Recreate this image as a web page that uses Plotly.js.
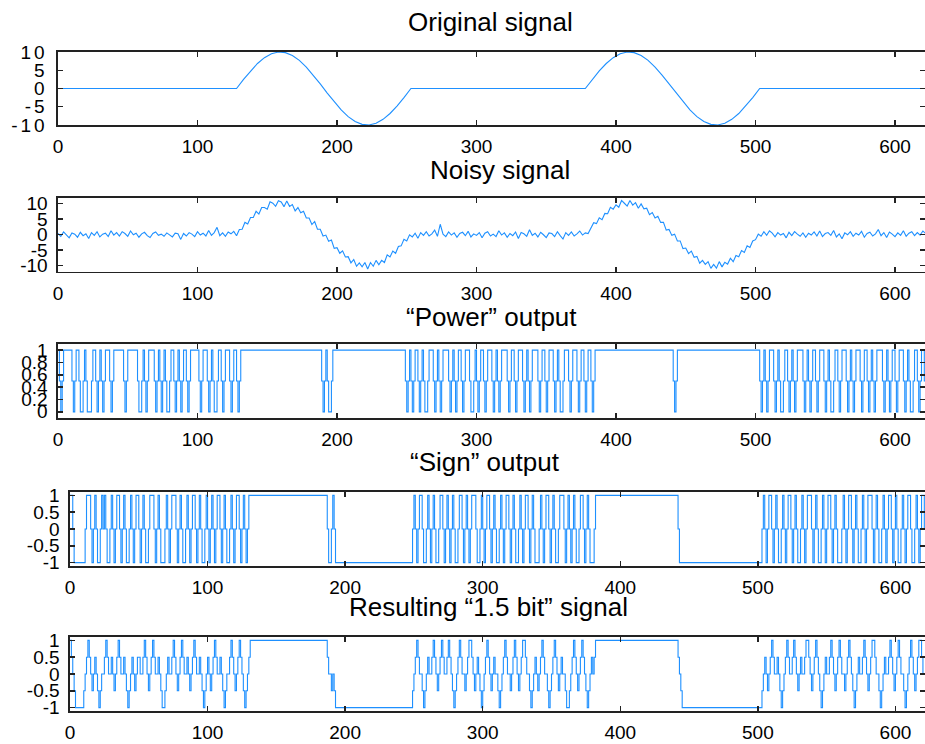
<!DOCTYPE html>
<html>
<head>
<meta charset="utf-8">
<script src="https://cdn.plot.ly/plotly-3.0.1.min.js"></script>
<style>
html,body{margin:0;padding:0;background:#fff;}
#chart{width:925px;height:744px;}
#chart .ytick text{letter-spacing:3px;}
</style>
</head>
<body>
<div id="chart"></div>
<script>
// ---------------- DATA ----------------
const panelTitles = ['Original signal', 'Noisy signal', '\u201cPower\u201d output', '\u201cSign\u201d output', 'Resulting \u201c1.5 bit\u201d signal'];

const xTickVals = [0, 100, 200, 300, 400, 500, 600];
const xTickText = ['0', '100', '200', '300', '400', '500', '600'];
const yTickVals10 = [-10, -5, 0, 5, 10];
const yTickText10 = ['-10', '-5', '0', '5', '10'];
const yTickValsPow = [0, 0.2, 0.4, 0.6, 0.8, 1];
const yTickTextPow = ['0', '0.2', '0.4', '0.6', '0.8', '1'];
const yTickValsSign = [-1, -0.5, 0, 0.5, 1];
const yTickTextSign = ['-1', '-0.5', '0', '0.5', '1'];

// Original signal (sample index, value)
const origX = [0,128,133,138,143,148,153,158,163,168,173,178,183,188,193,198,203,208,213,218,223,228,233,238,243,248,253,
               378,383,388,393,398,403,408,413,418,423,428,433,438,443,448,453,458,463,468,473,478,483,488,493,498,503,625];
const origY = [0,0,2.49,4.82,6.85,8.44,9.51,9.98,9.82,9.05,7.71,5.88,3.68,1.25,-1.25,-3.68,-5.88,-7.71,-9.05,-9.82,-9.98,-9.51,-8.44,-6.85,-4.82,-2.49,0,
               0,2.49,4.82,6.85,8.44,9.51,9.98,9.82,9.05,7.71,5.88,3.68,1.25,-1.25,-3.68,-5.88,-7.71,-9.05,-9.82,-9.98,-9.51,-8.44,-6.85,-4.82,-2.49,0,0];

// Noisy signal, one value every 2 samples
const noisyStep = 2;
const noisyY = [
 0.3,-0.6,0.8,-0.2,-1.1,0.5,0.1,-0.9, 0.7,-0.4,0.2,-1.3,0.6,-0.3,0.9,-0.8, 0.1,0.4,-0.7,1.2,-0.2,0.6,-0.5,0.9, 0.3,-0.6,1.1,-0.1,0.4,-0.9,0.2,0.7,
 -0.4,-1.0,0.3,0.8,-0.3,0.1,-0.6,0.5, -0.2,-0.8,0.4,0.2,-1.6,0.3,-0.5,0.6, 0.1,-0.7,0.9,-0.2,0.4,-0.5,1.3,-0.3, 0.6,2.3,-0.4,0.5,-0.6,0.8,0.2,1.0,
 -0.4,1.6,1.7,3.9,3.4,5.5,5.5,7.5, 6.6,8.7,8.7,8.2,10.6,10.1,9.1,10.9, 10.5,9.0,10.8,9.1,9.7,7.6,8.7,7.0, 7.5,5.3,5.3,3.2,4.2,1.7,1.7,-0.5,
 -0.2,-2.2,-1.8,-4.5,-4.3,-6.1,-5.3,-7.3, -7.2,-9.2,-8.1,-10.3,-9.2,-10.5,-9.1,-11.2, -9.1,-10.3,-8.4,-9.8,-8.4,-9.1,-6.6,-7.3, -5.4,-6.1,-3.9,-3.7,-1.6,-2.1,-0.1,
 -0.8,0.4,-1.2,0.6,-0.3,0.9,-0.5,0.2, 1.4,-0.6,3.3,0.1,-0.7,0.8,-0.2,0.5, -0.9,0.3,0.7,-0.4,1.0,-0.8,0.2,-0.3, 0.6,-1.1,0.4,0.9,-0.5,0.1,-0.7,1.2,
 -0.2,0.5,-0.9,0.3,-0.4,0.8,-1.3,0.6, 0.2,-0.6,1.5,-0.3,0.4,-0.8,0.7,-0.1, -1.0,0.5,0.3,-0.7,0.9,-0.4,-1.5,0.6, -0.3,0.8,-0.5,0.2,1.1,-0.2,
 0.5,0.3,2.2,3.8,3.5,5.4,4.8,6.8, 6.7,8.8,8.2,9.6,8.8,11.0,10.1,9.2, 11.0,9.5,10.3,8.5,9.9,8.3,8.5,6.4, 7.1,5.3,5.9,3.9,3.9,1.4,1.6,-0.3,
 0.1,-2.1,-2.1,-4.6,-4.4,-6.2,-5.4,-7.4, -7.1,-9.3,-8.4,-9.7,-8.8,-11.0,-9.7,-10.9, -8.8,-10.5,-9.0,-9.6,-7.7,-8.8,-6.8,-7.2, -5.2,-5.8,-3.7,-4.2,-2.1,-1.7,0.1,
 -0.6,0.9,-0.3,1.2,0.4,-0.8,0.6,-0.2, 0.3,-1.1,0.7,-0.4,0.9,0.1,-0.6,0.5, -0.9,0.4,-0.2,0.8,-0.5,1.1,-0.7,0.3, 0.6,-0.3,1.3,-0.8,0.2,-1.4,0.5,-0.1,
 0.9,-0.6,0.4,-0.2,1.0,-0.9,0.3,0.7, -0.5,0.2,1.6,-0.4,0.6,-1.0,0.8,0.1, -0.7,0.5,-0.3,1.2,-0.6,0.4,0.9,-0.4, 0.6,-0.2,1.1,0.3,-0.5
];

// "Power" output, one value per sample (0..624)
const powerY = [
 1,.5,0,.5,1,1,1,1,1,1,.5,0,.5,1,1,.5,0,0,.5,1,.5,0,0,0,.5,
 1,1,.5,0,.5,1,.5,0,.5,1,1,1,.5,0,.5,1,1,1,1,1,1,1,.5,0,.5,
 1,1,1,1,1,1,1,.5,0,0,.5,1,.5,0,.5,1,1,1,1,.5,0,.5,1,.5,0,
 .5,1,.5,0,0,.5,1,1,.5,0,.5,1,.5,0,.5,1,1,.5,0,.5,1,1,1,1,1,
 1,.5,0,.5,1,1,1,.5,0,.5,1,.5,0,0,.5,1,1,.5,0,.5,1,1,1,.5,0,
 .5,1,1,.5,0,.5,1,1,1,1,1,1,1,1,1,1,1,1,1,1,1,1,1,1,1,
 1,1,1,1,1,1,1,1,1,1,1,1,1,1,1,1,1,1,1,1,1,1,1,1,1,
 1,1,1,1,1,1,1,1,1,1,1,1,1,1,.5,0,.5,1,.5,0,0,.5,1,1,1,
 1,1,1,1,1,1,1,1,1,1,1,1,1,1,1,1,1,1,1,1,1,1,1,1,1,
 1,1,1,1,1,1,1,1,1,1,1,1,1,1,1,1,1,1,1,1,1,1,1,1,.5,
 0,.5,1,.5,0,.5,1,1,.5,0,.5,1,.5,0,0,.5,1,1,1,.5,0,.5,1,.5,0,
 .5,1,1,1,1,.5,0,.5,1,.5,0,.5,1,1,.5,0,.5,1,1,1,.5,0,0,.5,1,
 .5,0,.5,1,1,.5,0,.5,1,1,1,.5,0,.5,1,.5,0,.5,1,1,1,1,.5,0,.5,
 1,1,.5,0,.5,1,1,1,.5,0,.5,1,.5,0,.5,1,1,1,1,.5,0,.5,1,1,.5,
 0,.5,1,1,1,.5,0,.5,1,.5,0,0,.5,1,1,1,.5,0,.5,1,1,1,.5,0,.5,
 1,1,.5,0,.5,1,1,.5,0,.5,1,1,1,1,1,1,1,1,1,1,1,1,1,1,1,
 1,1,1,1,1,1,1,1,1,1,1,1,1,1,1,1,1,1,1,1,1,1,1,1,1,
 1,1,1,1,1,1,1,1,1,1,1,1,1,1,1,1,.5,0,.5,1,1,1,1,1,1,
 1,1,1,1,1,1,1,1,1,1,1,1,1,1,1,1,1,1,1,1,1,1,1,1,1,
 1,1,1,1,1,1,1,1,1,1,1,1,1,1,1,1,1,1,1,1,1,1,1,1,1,
 1,1,1,.5,0,.5,1,.5,0,.5,1,1,1,.5,0,.5,1,.5,0,0,.5,1,1,.5,0,
 .5,1,.5,0,.5,1,1,1,1,.5,0,.5,1,.5,0,.5,1,1,.5,0,.5,1,1,1,.5,
 0,.5,1,.5,0,0,.5,1,1,.5,0,.5,1,1,1,.5,0,.5,1,.5,0,.5,1,1,1,
 .5,0,.5,1,1,.5,0,.5,1,.5,0,.5,1,1,1,1,.5,0,.5,1,.5,0,.5,1,1,
 .5,0,.5,1,1,1,.5,0,.5,1,.5,0,0,.5,1,1,.5,0,.5,1,1,.5,0,.5,1
];

// "Sign" output, one value per sample (0..624)
const signY = [
 1,1,0,-1,-1,-1,-1,-1,-1,-1,-1,0,1,1,1,0,-1,0,1,0,-1,-1,0,1,0,
 1,0,-1,-1,0,1,0,-1,0,1,1,0,-1,0,1,0,-1,-1,0,1,0,-1,0,1,1,
 0,-1,0,1,0,-1,-1,0,1,1,1,0,-1,0,1,0,-1,-1,-1,0,1,0,-1,0,1,
 1,1,0,-1,0,1,0,-1,-1,0,1,0,-1,0,1,1,0,-1,0,1,0,-1,-1,0,1,
 0,-1,0,1,0,-1,0,1,1,0,-1,0,1,0,-1,-1,0,1,0,-1,0,1,1,0,-1,
 0,1,0,-1,0,1,1,1,1,1,1,1,1,1,1,1,1,1,1,1,1,1,1,1,1,
 1,1,1,1,1,1,1,1,1,1,1,1,1,1,1,1,1,1,1,1,1,1,1,1,1,
 1,1,1,1,1,1,1,1,1,1,1,1,0,-1,-1,0,1,0,-1,-1,-1,-1,-1,-1,-1,
 -1,-1,-1,-1,-1,-1,-1,-1,-1,-1,-1,-1,-1,-1,-1,-1,-1,-1,-1,-1,-1,-1,-1,-1,-1,
 -1,-1,-1,-1,-1,-1,-1,-1,-1,-1,-1,-1,-1,-1,-1,-1,-1,-1,-1,-1,-1,-1,-1,-1,0,
 1,0,-1,0,1,1,0,-1,-1,0,1,0,-1,0,1,0,-1,-1,0,1,1,0,-1,0,1,
 0,-1,0,1,0,-1,-1,0,1,1,0,-1,0,1,0,-1,0,1,1,1,0,-1,-1,0,1,
 0,-1,0,1,1,0,-1,0,1,0,-1,-1,0,1,0,-1,0,1,1,0,-1,0,1,0,-1,
 -1,0,1,0,-1,0,1,1,0,-1,0,1,0,-1,-1,-1,0,1,0,-1,0,1,1,0,-1,
 0,1,0,-1,-1,0,1,1,1,0,-1,0,1,0,-1,0,1,0,-1,-1,0,1,1,0,-1,
 0,1,0,-1,-1,-1,0,1,1,1,1,1,1,1,1,1,1,1,1,1,1,1,1,1,1,
 1,1,1,1,1,1,1,1,1,1,1,1,1,1,1,1,1,1,1,1,1,1,1,1,1,
 1,1,1,1,1,1,1,1,1,1,1,1,1,1,1,1,1,0,-1,-1,-1,-1,-1,-1,-1,
 -1,-1,-1,-1,-1,-1,-1,-1,-1,-1,-1,-1,-1,-1,-1,-1,-1,-1,-1,-1,-1,-1,-1,-1,-1,
 -1,-1,-1,-1,-1,-1,-1,-1,-1,-1,-1,-1,-1,-1,-1,-1,-1,-1,-1,-1,-1,-1,-1,-1,-1,
 -1,-1,-1,0,1,0,-1,0,1,1,0,-1,0,1,0,-1,-1,0,1,0,-1,0,1,1,0,
 -1,0,1,0,-1,-1,0,1,0,-1,0,1,1,1,0,-1,0,1,0,-1,-1,0,1,0,-1,
 0,1,1,0,-1,0,1,0,-1,-1,-1,0,1,0,-1,0,1,1,0,-1,0,1,0,-1,-1,
 0,1,0,-1,0,1,1,1,0,-1,0,1,0,-1,-1,0,1,0,-1,0,1,1,0,-1,0,
 1,0,-1,-1,0,1,0,-1,0,1,1,0,-1,-1,0,1,0,-1,0,1,1,0,-1,0,1
];

// Resulting "1.5 bit" signal, one value per sample (0..624)
const resultY = [
 1,.5,0,-.5,-1,-1,-1,-1,-1,-1,-.5,0,.5,1,.5,0,-.5,0,.5,0,-.5,-1,-.5,0,0,
 .5,1,.5,0,0,.5,0,-.5,0,.5,1,.5,0,0,.5,0,-.5,-1,-.5,0,.5,0,-.5,0,.5,
 .5,0,0,.5,1,.5,0,-.5,0,.5,1,.5,0,0,.5,0,-.5,-1,-1,-.5,0,.5,0,0,.5,
 1,.5,0,-.5,0,.5,1,.5,0,0,.5,0,-.5,0,.5,1,.5,0,0,.5,0,-.5,-1,-.5,0,
 .5,0,-.5,0,.5,1,.5,0,0,.5,0,-.5,-1,-.5,0,0,.5,1,.5,0,-.5,0,.5,1,.5,
 0,-.5,-1,-.5,0,.5,1,1,1,1,1,1,1,1,1,1,1,1,1,1,1,1,1,1,1,
 1,1,1,1,1,1,1,1,1,1,1,1,1,1,1,1,1,1,1,1,1,1,1,1,1,
 1,1,1,1,1,1,1,1,1,1,1,1,.5,0,0,-.5,0,-.5,-1,-1,-1,-1,-1,-1,-1,
 -1,-1,-1,-1,-1,-1,-1,-1,-1,-1,-1,-1,-1,-1,-1,-1,-1,-1,-1,-1,-1,-1,-1,-1,-1,
 -1,-1,-1,-1,-1,-1,-1,-1,-1,-1,-1,-1,-1,-1,-1,-1,-1,-1,-1,-1,-1,-1,-1,-1,-.5,
 0,.5,1,.5,0,0,-.5,-1,-.5,0,.5,0,0,.5,1,.5,0,-.5,0,.5,1,.5,0,0,.5,
 1,.5,0,-.5,-1,-.5,0,.5,1,.5,0,0,-.5,0,.5,1,1,.5,0,-.5,0,.5,0,-.5,-1,
 -.5,0,.5,1,.5,0,-.5,0,.5,0,0,-.5,-1,-.5,0,.5,1,.5,0,0,-.5,0,.5,1,.5,
 0,-.5,0,.5,1,1,.5,0,0,-.5,-1,-.5,0,.5,0,-.5,0,.5,1,.5,0,0,-.5,-1,-.5,
 0,.5,1,.5,0,-.5,0,.5,0,0,-.5,-1,-1,-.5,0,.5,1,.5,0,-.5,0,.5,1,.5,0,
 -.5,-1,-.5,0,.5,0,.5,1,1,1,1,1,1,1,1,1,1,1,1,1,1,1,1,1,1,
 1,1,1,1,1,1,1,1,1,1,1,1,1,1,1,1,1,1,1,1,1,1,1,1,1,
 1,1,1,1,1,1,1,1,1,1,1,1,1,1,1,1,1,.5,0,-.5,-1,-1,-1,-1,-1,
 -1,-1,-1,-1,-1,-1,-1,-1,-1,-1,-1,-1,-1,-1,-1,-1,-1,-1,-1,-1,-1,-1,-1,-1,-1,
 -1,-1,-1,-1,-1,-1,-1,-1,-1,-1,-1,-1,-1,-1,-1,-1,-1,-1,-1,-1,-1,-1,-1,-1,-1,
 -1,-1,-1,-.5,0,.5,0,-.5,0,.5,1,.5,0,0,.5,0,-.5,-1,-.5,0,.5,1,.5,0,0,
 .5,1,.5,0,-.5,0,.5,0,0,.5,1,1,.5,0,-.5,0,.5,1,.5,0,-.5,-1,-.5,0,.5,
 0,0,.5,1,.5,0,-.5,0,.5,1,.5,0,0,-.5,0,.5,1,.5,0,-.5,-1,-.5,0,.5,0,
 0,.5,1,.5,0,-.5,0,.5,1,1,.5,0,0,-.5,-1,-.5,0,.5,0,0,.5,1,.5,0,-.5,
 0,.5,1,.5,0,0,-.5,-1,-.5,0,.5,1,.5,0,-.5,0,.5,1,1,.5,0,0,-.5,0,.5
];

// ---------------- CHART ----------------
const lineColor = 'rgb(30,144,255)';
const W = 925, H = 744;
const tickFont = {family: 'Liberation Sans, Arial, sans-serif', size: 19, color: '#000'};
const titleFont = {family: 'Liberation Sans, Arial, sans-serif', size: 26, color: '#000'};

const sampleX = powerY.map((_, i) => i);
const noisyX = noisyY.map((_, i) => i * noisyStep);

function tr(x, y, n, shape) {
  return {x: x, y: y, type: 'scatter', mode: 'lines', xaxis: 'x' + (n === 1 ? '' : n), yaxis: 'y' + (n === 1 ? '' : n),
          line: {color: lineColor, width: 1.1, shape: shape || 'linear'}, hoverinfo: 'skip'};
}

const data = [
  tr(origX, origY, 1),
  tr(noisyX, noisyY, 2),
  tr(sampleX, powerY, 3, 'hv'),
  tr(sampleX, signY, 4, 'hv'),
  tr(sampleX, resultY, 5, 'hv')
];

// pixel boxes: [left, top, bottom]
const boxes = [[58, 52, 125], [58, 198, 271.5], [58, 344, 418], [70, 492, 566], [70, 637, 711]];
const yRanges = [[-10, 10], [-12, 11.8], [-0.1, 1.1], [-1.1, 1.1], [-1.1, 1.1]];
const yTicks = [[yTickVals10, yTickText10], [yTickVals10, yTickText10], [yTickValsPow, yTickTextPow], [yTickValsSign, yTickTextSign], [yTickValsSign, yTickTextSign]];
const titleCenters = [[490, 22], [500, 170], [491, 317], [485, 462], [488, 607]];

const layout = {
  width: W, height: H, margin: {l: 0, r: 0, t: 0, b: 0},
  paper_bgcolor: '#fff', plot_bgcolor: '#fff', showlegend: false,
  annotations: []
};

const axisCommon = {
  showline: true, mirror: 'ticks', linecolor: '#222', linewidth: 1.6,
  ticks: 'inside', ticklen: 5, tickwidth: 1.4, tickcolor: '#222',
  showgrid: false, zeroline: false, tickfont: tickFont, fixedrange: true
};

boxes.forEach((b, k) => {
  const n = k + 1;
  const xa = 'xaxis' + (n === 1 ? '' : n);
  const ya = 'yaxis' + (n === 1 ? '' : n);
  layout[xa] = Object.assign({}, axisCommon, {
    domain: [b[0] / W, 1], range: [0, 621.5], anchor: 'y' + (n === 1 ? '' : n),
    tickmode: 'array', tickvals: xTickVals, ticktext: xTickText, ticklabelstandoff: 4
  });
  layout[ya] = Object.assign({}, axisCommon, {
    domain: [1 - b[2] / H, 1 - b[1] / H], range: yRanges[k], anchor: 'x' + (n === 1 ? '' : n),
    tickmode: 'array', tickvals: yTicks[k][0], ticktext: yTicks[k][1], ticklabelstandoff: 5
  });
  layout.annotations.push({
    text: panelTitles[k], xref: 'paper', yref: 'paper',
    x: titleCenters[k][0] / W, y: 1 - titleCenters[k][1] / H,
    xanchor: 'center', yanchor: 'middle', showarrow: false, font: titleFont
  });
});

Plotly.newPlot('chart', data, layout, {displayModeBar: false, staticPlot: true});
</script>
</body>
</html>
